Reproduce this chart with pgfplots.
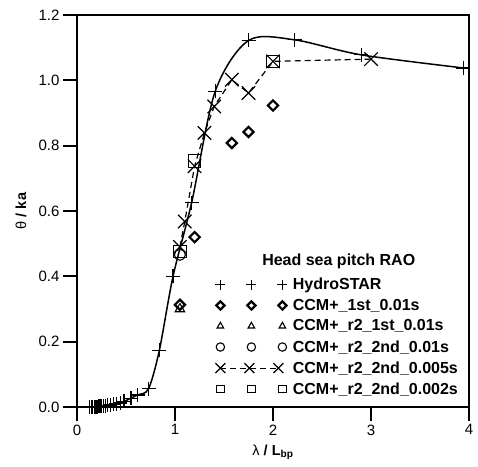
\documentclass[border=0pt]{standalone}
\usepackage{pgfplots}
\pgfplotsset{compat=1.18}
\usepackage{fontspec}
\setmainfont{Liberation Sans}
\pgfplotsset{
  legmarks/.style={legend image code/.code={\draw[##1, mark size=#1] plot[only marks] coordinates {(0pt,0pt) (31pt,0pt) (62pt,0pt)};}},
  leglines/.style={legend image code/.code={\draw[##1, mark size=#1] plot coordinates {(0pt,0pt) (29pt,0pt) (58pt,0pt)};}},
}
\begin{document}
\begin{tikzpicture}
\begin{axis}[
  scale only axis, width=392pt, height=392pt,
  xmin=0, xmax=4, ymin=0, ymax=1.2,
  xtick={0,1,2,3,4}, ytick={0,0.2,0.4,0.6,0.8,1.0,1.2},
  yticklabel style={/pgf/number format/fixed, /pgf/number format/fixed zerofill, /pgf/number format/precision=1},
  /pgf/number format/assume math mode=true,
  tick pos=left, tick align=outside, major tick length=14pt,
  axis line style={line width=1.8pt},
  major tick style={line width=1.8pt, black},
  tick label style={font=\fontsize{15}{18}\selectfont, black},
  every axis y label/.style={at={(axis description cs:0,0.5)}, xshift=-56pt, rotate=90, anchor=center, font=\fontsize{14.5}{17}\selectfont},
  every axis x label/.style={at={(axis description cs:0.5,0)}, yshift=-45pt, anchor=center, font=\fontsize{14.5}{17}\selectfont},
  ylabel={θ \textbf{/ ka}},
  xlabel={λ \textbf{/ L\textsubscript{bp}}},
  legend cell align=left,
  legend style={at={(axis cs:1.41,0.400)}, anchor=north west, draw=none, fill=none,
    font=\bfseries\fontsize{16}{18}\selectfont, row sep=5pt, column sep=4pt, inner sep=0pt, nodes={inner sep=1.5pt}},
]
\addplot[black, line width=1.5pt, smooth, mark=+, mark size=7pt, mark options={line width=1.2pt}, legmarks=5pt]
coordinates {
(0.13,0.000) (0.145,0.000) (0.16,0.000) (0.175,0.001) (0.19,0.001) (0.205,0.001)
(0.22,0.002) (0.235,0.002) (0.25,0.003) (0.27,0.003) (0.29,0.004) (0.31,0.005)
(0.34,0.006) (0.37,0.008) (0.40,0.010) (0.44,0.012) (0.48,0.017) (0.55,0.027)
(0.62,0.037) (0.73,0.056) (0.84,0.173) (0.98,0.400) (1.17,0.626) (1.41,0.966)
(1.75,1.122) (2.22,1.124) (2.90,1.078) (3.94,1.038)
};
\addlegendentry{HydroSTAR}
\addplot[black, only marks, mark=square*, mark size=3.6pt, mark options={rotate=45, line width=2.2pt, fill=white}, legmarks=2.9pt]
coordinates {(1.05,0.313) (1.20,0.520) (1.58,0.808) (1.75,0.842) (2.00,0.923)};
\addlegendentry{CCM+\_1st\_0.01s}
\addplot[black, only marks, mark=triangle, mark size=5.5pt, mark options={line width=1.1pt}, legmarks=3.8pt]
coordinates {(1.05,0.300)};
\addlegendentry{CCM+\_r2\_1st\_0.01s}
\addplot[black, only marks, mark=o, mark size=5.5pt, mark options={line width=1.1pt}, legmarks=4.2pt]
coordinates {(1.05,0.466)};
\addlegendentry{CCM+\_r2\_2nd\_0.01s}
\addplot[black, line width=1.2pt, dash pattern=on 6pt off 4pt, mark=x, mark size=9.5pt, mark options={solid, line width=1.2pt}, leglines=7pt]
coordinates {(1.05,0.490) (1.10,0.568) (1.20,0.737) (1.30,0.839) (1.40,0.920) (1.58,1.002) (1.75,0.961) (2.00,1.058) (3.00,1.065)};
\addlegendentry{CCM+\_r2\_2nd\_0.005s}
\addplot[black, only marks, mark=square, mark size=6.3pt, mark options={line width=1.1pt}, legmarks=3.7pt]
coordinates {(1.05,0.476) (1.20,0.753) (2.00,1.058)};
\addlegendentry{CCM+\_r2\_2nd\_0.002s}
\node[font=\bfseries\fontsize{16}{18}\selectfont] at (axis cs:2.671,0.4457) {Head sea pitch RAO};
\end{axis}
\pgfresetboundingbox
\path[use as bounding box] (-77pt,-59pt) rectangle (401pt,407pt);
\end{tikzpicture}
\end{document}
